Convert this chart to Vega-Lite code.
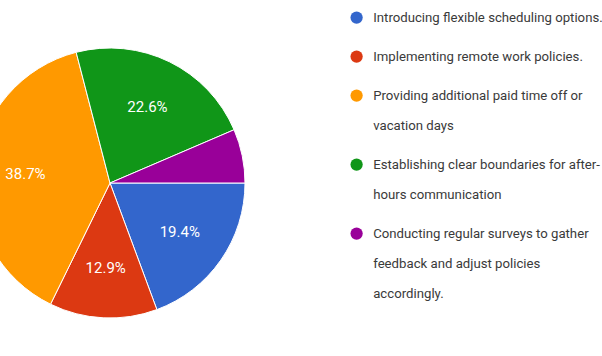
{
  "$schema": "https://vega.github.io/schema/vega-lite/v6.json",
  "width": 220,
  "height": 366,
  "autosize": {"type": "none"},
  "padding": {"left": 0, "top": 0, "right": 382, "bottom": 0},
  "background": "white",
  "config": {"view": {"stroke": null}, "style": {"guide-label": {"lineHeight": 30}}},
  "data": {
    "values": [
      {"answer": "Introducing flexible scheduling options.", "count": 6, "pct": "19.4%", "order": 1},
      {"answer": "Implementing remote work policies.", "count": 4, "pct": "12.9%", "order": 2},
      {"answer": "Providing additional paid time off or|vacation days", "count": 12, "pct": "38.7%", "order": 3},
      {"answer": "Establishing clear boundaries for after-|hours communication", "count": 7, "pct": "22.6%", "order": 4},
      {"answer": "Conducting regular surveys to gather|feedback and adjust policies|accordingly.", "count": 2, "pct": "", "order": 5}
    ]
  },
  "encoding": {
    "theta": {"field": "count", "type": "quantitative", "stack": true, "scale": {"range": [1.5708, 7.854]}},
    "order": {"field": "order", "type": "quantitative"}
  },
  "layer": [
    {
      "mark": {"type": "arc", "outerRadius": 135, "stroke": "white", "strokeWidth": 1},
      "encoding": {
        "color": {
          "field": "answer",
          "type": "nominal",
          "scale": {
            "domain": [
              "Introducing flexible scheduling options.",
              "Implementing remote work policies.",
              "Providing additional paid time off or|vacation days",
              "Establishing clear boundaries for after-|hours communication",
              "Conducting regular surveys to gather|feedback and adjust policies|accordingly."
            ],
            "range": ["#3366cc", "#dc3912", "#ff9900", "#109618", "#990099"]
          },
          "legend": {
            "orient": "none",
            "legendX": 350,
            "legendY": 11,
            "title": null,
            "symbolType": "circle",
            "symbolSize": 150,
            "symbolStrokeWidth": 0,
            "labelFont": "Roboto",
            "labelFontSize": 13.2,
            "labelColor": "#3a3a3a",
            "labelLimit": 400,
            "labelOffset": 10,
            "rowPadding": 25,
            "labelExpr": "split(datum.label, '|')"
          }
        }
      }
    },
    {
      "mark": {"type": "text", "radius": 85, "fill": "white", "fontSize": 15, "font": "Roboto"},
      "encoding": {"text": {"field": "pct", "type": "nominal"}}
    }
  ]
}
